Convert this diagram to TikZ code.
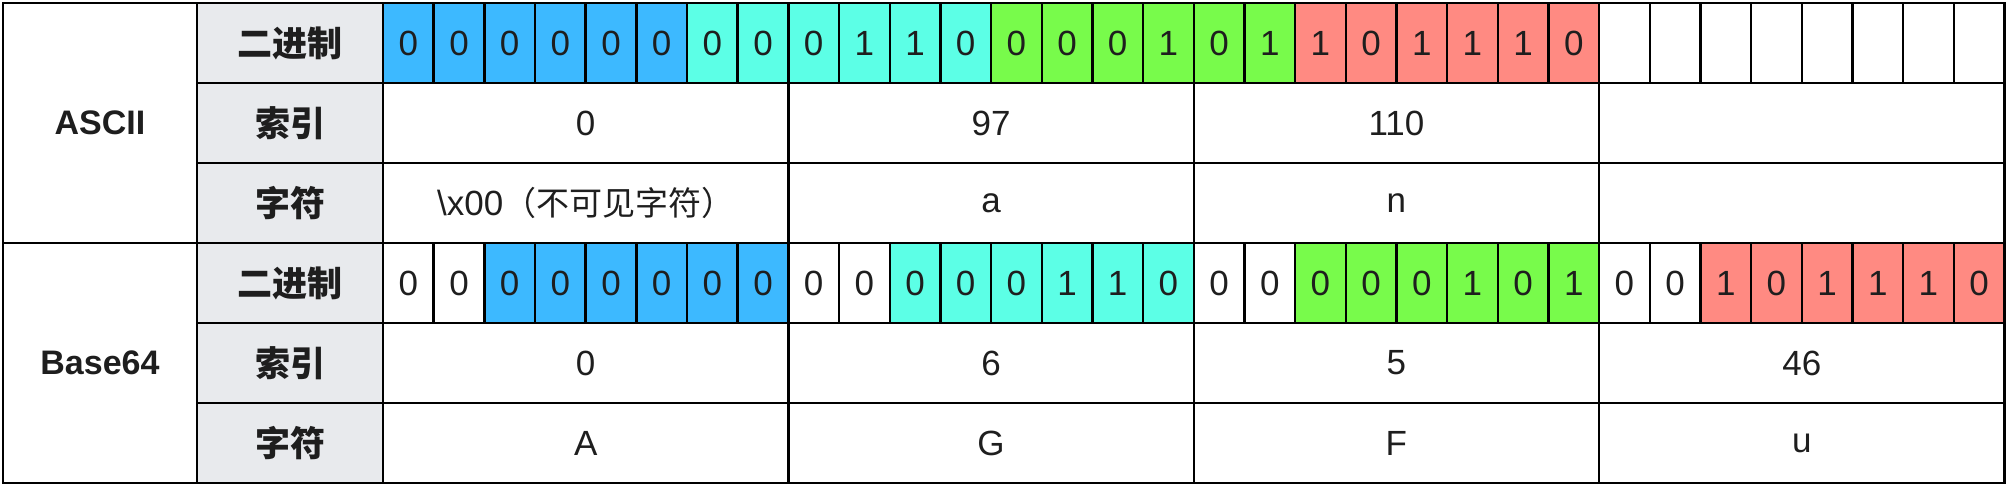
\documentclass[tikz,border=0pt]{standalone}
\usepackage{fontspec}
\setmainfont{Liberation Sans}
\newfontfamily\cjk{Noto Sans CJK SC}
\usetikzlibrary{calc}
\definecolor{bitblue}{HTML}{3DB9FF}
\definecolor{bitcyan}{HTML}{5CFFE6}
\definecolor{bitgreen}{HTML}{78FB4B}
\definecolor{bitred}{HTML}{FF8A82}
\definecolor{headgray}{HTML}{E8EAED}
\definecolor{ink}{HTML}{1E1E1E}
\colorlet{grp0}{bitblue}
\colorlet{grp1}{bitcyan}
\colorlet{grp2}{bitgreen}
\colorlet{grp3}{bitred}
\def\cw{50.67}
\tikzset{
	cell/.style={draw=black, line width=2.4pt, rectangle, inner sep=0, outer sep=0, minimum height=80pt, text=ink, font=\fontsize{35}{40}\selectfont},
	bitcell/.style={cell, minimum width=\cw pt},
	spancell/.style={cell, minimum width=8*\cw pt},
	headcell/.style={cell, fill=headgray, minimum width=186pt, font=\cjk\bfseries\fontsize{35}{40}\selectfont},
	namecell/.style={cell, minimum width=194pt, minimum height=240pt, font=\bfseries\fontsize{34}{40}\selectfont}
}

\begin{document}
\begin{tikzpicture}[x=1pt, y=-1pt]
			%%%%% START %%%%%
			\useasboundingbox (0, 0) rectangle (2008, 488);
			
			% left column
			\node[namecell] (ascii) at (100, 123) {ASCII};
			\node[namecell] (base) at (100, 363) {Base64};
			
			% row heads
			\foreach \t [count=\r from 0] in {二进制, 索引, 字符, 二进制, 索引, 字符}
				\node[headcell] (head\r) at (290, 43+80*\r) {\t};
			
			% ASCII bits
			\foreach \b [count=\i from 0] in {0,0,0,0,0,0, 0,0,0,1,1,0, 0,0,0,1,0,1, 1,0,1,1,1,0} {
				\pgfmathtruncatemacro\g{\i/6}
				\node[bitcell, fill=grp\g] (abit\i) at (383+\cw*\i+\cw/2, 43) {\b};
			}
			\foreach \i in {24,...,31}
				\node[bitcell] (abit\i) at (383+\cw*\i+\cw/2, 43) {};
			
			% ASCII index and char
			\foreach \t/\c [count=\s from 0] in {0/{\textbackslash x00{\cjk\fontsize{33}{38}\selectfont（不可见字符）}}, 97/a, 110/n, {}/{}} {
				\node[spancell] (aidx\s) at (383+8*\cw*\s+4*\cw, 123) {\t};
				\node[spancell] (achr\s) at (383+8*\cw*\s+4*\cw, 203) {\c};
			}
			
			% Base64 bits
			\foreach \b [count=\i from 0] in {0,0,0,0,0,0,0,0, 0,0,0,0,0,1,1,0, 0,0,0,0,0,1,0,1, 0,0,1,0,1,1,1,0} {
				\pgfmathtruncatemacro\g{\i/8}
				\pgfmathtruncatemacro\p{\i-8*\g}
				\ifnum\p<2 \def\fc{white}\else\edef\fc{grp\g}\fi
				\node[bitcell, fill=\fc] (bbit\i) at (383+\cw*\i+\cw/2, 283) {\b};
			}
			
			% Base64 index and char
			\foreach \t/\c [count=\s from 0] in {0/A, 6/G, 5/F, 46/u} {
				\node[spancell] (bidx\s) at (383+8*\cw*\s+4*\cw, 363) {\t};
				\node[spancell] (bchr\s) at (383+8*\cw*\s+4*\cw, 443) {\c};
			}
			
			% outer frame
			\draw[line width=2.8pt] (ascii.north west) rectangle (bchr3.south east);
			\draw[line width=2.8pt] (ascii.south west) -- (achr3.south east);
			%%%%% END %%%%%
\end{tikzpicture}
\end{document}
